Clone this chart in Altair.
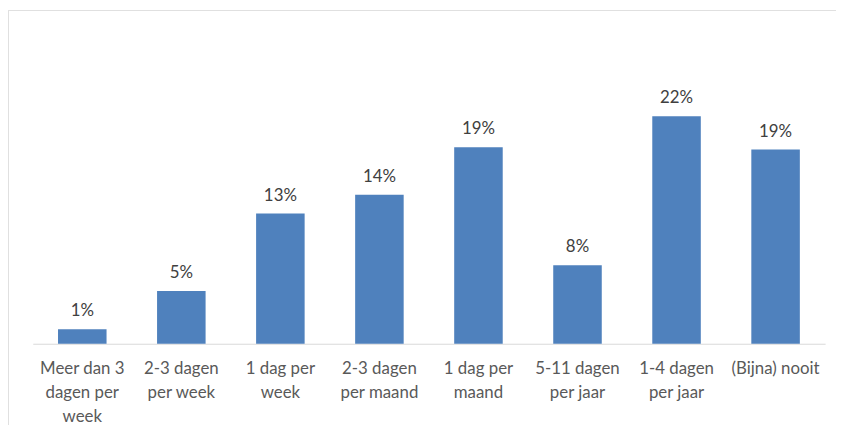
import altair as alt
import pandas as pd

categories = [
    "Meer dan 3|dagen per|week",
    "2-3 dagen|per week",
    "1 dag per|week",
    "2-3 dagen|per maand",
    "1 dag per|maand",
    "5-11 dagen|per jaar",
    "1-4 dagen|per jaar",
    "(Bijna) nooit",
]
values = [1.4, 5.1, 12.6, 14.4, 19.0, 7.6, 22.0, 18.8]
labels = ["1%", "5%", "13%", "14%", "19%", "8%", "22%", "19%"]

df = pd.DataFrame({"cat": categories, "val": values, "lab": labels})

x = alt.X(
    "cat:N",
    sort=categories,
    title=None,
    scale=alt.Scale(paddingInner=0.51, paddingOuter=0.255),
    axis=alt.Axis(
        labelExpr="split(datum.label, '|')",
        labelAngle=0,
        ticks=False,
        domainColor="#d9d9d9",
        domainWidth=1,
        labelColor="#595959",
        labelFont="Lato",
        labelFontSize=17,
        labelLineHeight=24,
        labelPadding=17,
        labelBaseline="top",
        labelLimit=200,
    ),
)
y = alt.Y("val:Q", title=None, axis=None, scale=alt.Scale(domain=[0, 25], nice=False))

bars = alt.Chart(df).mark_bar(color="#4f81bd").encode(x=x, y=y)
text = alt.Chart(df).mark_text(
    baseline="bottom", dy=-9, font="Lato", fontSize=17, color="#404040"
).encode(x=alt.X("cat:N", sort=categories), y="val:Q", text="lab:N")

frame = alt.Chart(df).mark_rect(fill=None, stroke="#e0e0e0", strokeWidth=1).encode(
    x=alt.value(-24.5), x2=alt.value(830), y=alt.value(-75.5), y2=alt.value(360)
)

chart = (
    alt.layer(frame, bars, text)
    .properties(
        width=800,
        height=261,
        padding={"left": 25, "top": 76, "right": 11, "bottom": 80},
        autosize=alt.AutoSizeParams(type="none"),
    )
    .configure_view(stroke=None)
)

chart.save("out.html", embed_options={"renderer": "svg", "actions": False})
